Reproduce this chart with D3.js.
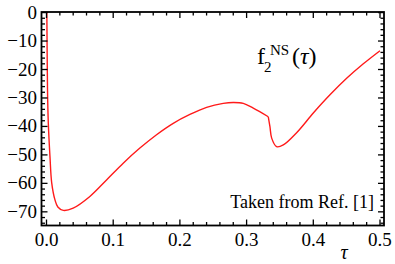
<!DOCTYPE html>
<html>
  <head>
    <meta charset="utf-8">
    <style>
      body { margin: 0; background: #fff; }
      .curve { stroke: #ff1a1a; stroke-width: 1.4px; fill: none; }
    </style>
  </head>
  <body>
    <div class="chart-container"></div>
    <script src="https://cdn.jsdelivr.net/npm/d3@7"></script>
    <script>

// f2^NS(tau)
var tau = [0.0001, 0.0005, 0.0015, 0.0027, 0.0052, 0.0078, 0.0127, 0.017, 0.0252,
           0.040, 0.065, 0.090, 0.115, 0.140, 0.165, 0.190, 0.215, 0.240, 0.265,
           0.280, 0.295, 0.310, 0.3325, 0.335, 0.3376, 0.345, 0.355, 0.375, 0.400,
           0.425, 0.450, 0.475, 0.500];
var f2 = [5, 0, -27, -38.8, -50.6, -59.8, -65.8, -68.3, -69.5,
          -68.7, -64.6, -58.8, -52.9, -47.6, -42.9, -38.9, -35.8, -33.3, -31.9,
          -31.6, -31.9, -33.6, -36.6, -40.1, -44.1, -47.1, -46.5, -42.2, -35.3,
          -28.9, -23.1, -18.0, -13.4];

var xTicks = [0.0, 0.1, 0.2, 0.3, 0.4, 0.5];
var yTicks = [0, -10, -20, -30, -40, -50, -60, -70];

var kinkTau = 0.3325;

var data = tau.map(function (t, i) { return { x: t, y: f2[i] }; });

var width = 395;
var height = 264;
var serif = 'Liberation Serif';

var x = d3.scaleLinear()
    .domain([-0.0075, 0.506])
    .range([41.5, 384]);

var y = d3.scaleLinear()
    .domain([-74.8, 0.2])
    .range([225.5, 12]);

var svg = d3.select('.chart-container').append('svg')
    .attr('width', width)
    .attr('height', height);

svg.append('clipPath')
    .attr('id', 'plot-clip')
  .append('rect')
    .attr('x', x.range()[0])
    .attr('y', y.range()[1])
    .attr('width', x.range()[1] - x.range()[0])
    .attr('height', y.range()[0] - y.range()[1]);

var line = d3.line()
    .curve(d3.curveCatmullRom.alpha(0.5))
    .x(function (d) { return x(d.x); })
    .y(function (d) { return y(d.y); });

// two smooth pieces joined at the kink
var pieces = [
  data.filter(function (d) { return d.x <= kinkTau; }),
  data.filter(function (d) { return d.x >= kinkTau; })
];

svg.append('g')
    .attr('clip-path', 'url(#plot-clip)')
  .selectAll('path')
    .data(pieces)
  .enter().append('path')
    .attr('class', 'curve')
    .attr('d', line);

// frame with inward ticks on all sides
var x0 = x.range()[0], x1 = x.range()[1];
var yb = y.range()[0], yt = y.range()[1];

var xMinor = d3.range(0, 0.5001, 0.02).filter(function (v) {
  return Math.abs(v * 10 - Math.round(v * 10)) > 1e-6;
});
var yMinor = d3.range(-74, 0.001, 2).filter(function (v) { return v % 10 !== 0; });

var ticks = svg.append('g')
    .attr('stroke', '#000')
    .attr('stroke-width', 1.3);

function hTicks(vals, len) {
  vals.forEach(function (v) {
    ticks.append('line').attr('x1', x(v)).attr('x2', x(v)).attr('y1', yb).attr('y2', yb - len);
    ticks.append('line').attr('x1', x(v)).attr('x2', x(v)).attr('y1', yt).attr('y2', yt + len);
  });
}
function vTicks(vals, len) {
  vals.forEach(function (v) {
    ticks.append('line').attr('y1', y(v)).attr('y2', y(v)).attr('x1', x0).attr('x2', x0 + len);
    ticks.append('line').attr('y1', y(v)).attr('y2', y(v)).attr('x1', x1).attr('x2', x1 - len);
  });
}
hTicks(xTicks, 6);
hTicks(xMinor, 3.5);
vTicks(yTicks, 6);
vTicks(yMinor, 3.5);

svg.append('rect')
    .attr('x', x0)
    .attr('y', yt)
    .attr('width', x1 - x0)
    .attr('height', yb - yt)
    .attr('fill', 'none')
    .attr('stroke', '#000')
    .attr('stroke-width', 1.8);

function label(sel, size) {
  return sel.attr('font-family', serif).attr('font-size', size);
}

// tick labels
label(svg.append('g').selectAll('text')
    .data(xTicks)
  .enter().append('text'), 19)
    .attr('x', function (d) { return x(d); })
    .attr('y', 246)
    .attr('text-anchor', 'middle')
    .text(function (d) { return d.toFixed(1); });

label(svg.append('g').selectAll('text')
    .data(yTicks)
  .enter().append('text'), 19)
    .attr('x', 37)
    .attr('y', function (d) { return y(d) + 6; })
    .attr('text-anchor', 'end')
    .text(function (d) { return d < 0 ? '\u2212' + Math.abs(d) : d; });

label(svg.append('text'), 20)
    .attr('x', 344)
    .attr('y', 259)
    .attr('text-anchor', 'middle')
    .attr('font-style', 'italic')
    .text('\u03c4');

// function label f_2^NS(tau)
var lab = svg.append('g');
label(lab.append('text'), 24).attr('x', 257).attr('y', 64).text('f');
label(lab.append('text'), 15).attr('x', 264).attr('y', 72).text('2');
label(lab.append('text'), 15).attr('x', 270).attr('y', 55).text('NS');
label(lab.append('text'), 24).attr('x', 292).attr('y', 64)
  .html('(<tspan font-style="italic">\u03c4</tspan>)');

label(svg.append('text'), 18)
    .attr('x', 374)
    .attr('y', 208)
    .attr('text-anchor', 'end')
    .text('Taken from Ref. [1]');

    </script>
  </body>
</html>
